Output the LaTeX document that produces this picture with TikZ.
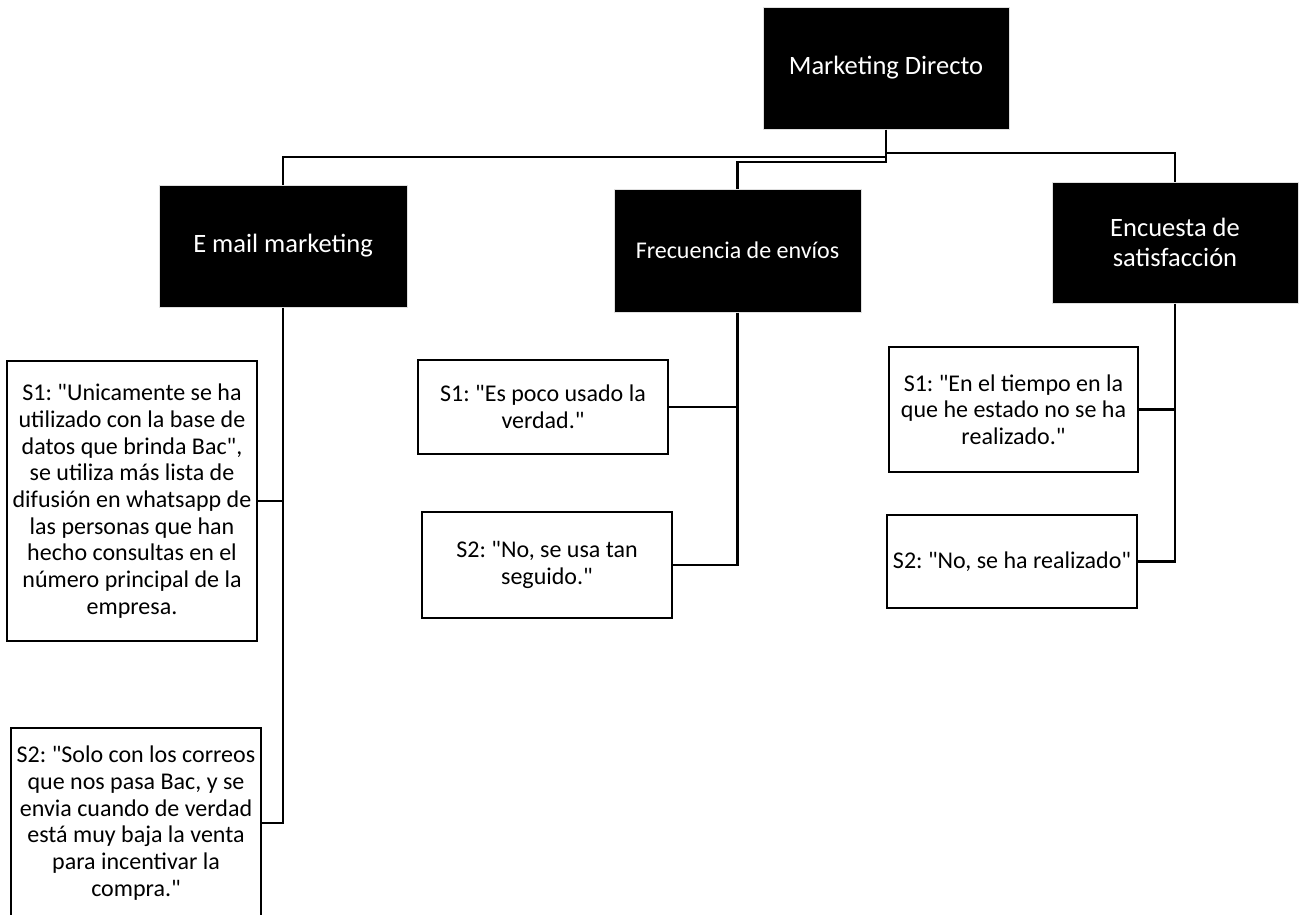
\documentclass[tikz,border=0pt]{standalone}
\usepackage{fontspec}
\setmainfont{Carlito}[Ligatures=TeXOff]
\begin{document}
\frenchspacing
\begin{tikzpicture}[x=1pt,y=-1pt,
  head/.style={rectangle, fill=black, draw=gray!25, line width=1pt, text=white, align=center, inner sep=0pt},
  quote/.style={rectangle, fill=white, draw=black, line width=2.6pt, align=center, inner sep=0pt,
     font=\fontsize{24}{26.7}\selectfont},
  link/.style={draw=black, line width=2.6pt}]
\useasboundingbox (0,0) rectangle (1304,914);
\clip (0,0) rectangle (1304,914);
% heads
\node[head, minimum width=246pt, minimum height=122pt, font=\fontsize{26.5}{30}\selectfont] (top) at (886,68) {Marketing Directo};
\node[head, minimum width=248pt, minimum height=122pt, font=\fontsize{26.5}{30}\selectfont] (em) at (283,246) {E mail marketing};
\node[head, minimum width=247pt, minimum height=123pt, font=\fontsize{24}{29}\selectfont] (fr) at (737.5,250.5) {Frecuencia de envíos};
\node[head, minimum width=246pt, minimum height=121pt, font=\fontsize{26.5}{30}\selectfont] (en) at (1175,242.5) {Encuesta de\\satisfacción};
% quotes
\node[quote, minimum width=250pt, minimum height=280pt] (e1) at (132,501) {S1: "Unicamente se ha\\utilizado con la base de\\datos que brinda Bac",\\se utiliza más lista de\\difusión en whatsapp de\\las personas que han\\hecho consultas en el\\número principal de la\\empresa.};
\node[quote, minimum width=250pt, minimum height=190pt] (e2) at (136,823) {S2: "Solo con los correos\\que nos pasa Bac, y se\\envia cuando de verdad\\está muy baja la venta\\para incentivar la\\compra."};
\node[quote, minimum width=250pt, minimum height=94pt] (f1) at (543,407) {S1: "Es poco usado la\\verdad."};
\node[quote, minimum width=250pt, minimum height=106pt] (f2) at (547,565) {S2: "No, se usa tan\\seguido."};
\node[quote, minimum width=249pt, minimum height=125pt] (n1) at (1013.5,409.5) {S1: "En el tiempo en la\\que he estado no se ha\\realizado."};
\node[quote, minimum width=250pt, minimum height=93pt] (n2) at (1012,561.5) {S2: "No, se ha realizado"};
% connectors
\draw[link] (top.south) -- (top.south |- 0,162) -| (fr.north);
\draw[link] (top.south |- 0,157) -| (em.north);
\draw[link] (top.south |- 0,153) -| (en.north);
\draw[link] (em.south) |- (e2.east);
\draw[link] (e1.east) -- (em.south |- e1.east);
\draw[link] (fr.south) |- (f2.east);
\draw[link] (f1.east) -- (fr.south |- f1.east);
\draw[link] (en.south) |- (n2.east);
\draw[link] (n1.east) -- (en.south |- n1.east);
\end{tikzpicture}
\end{document}
